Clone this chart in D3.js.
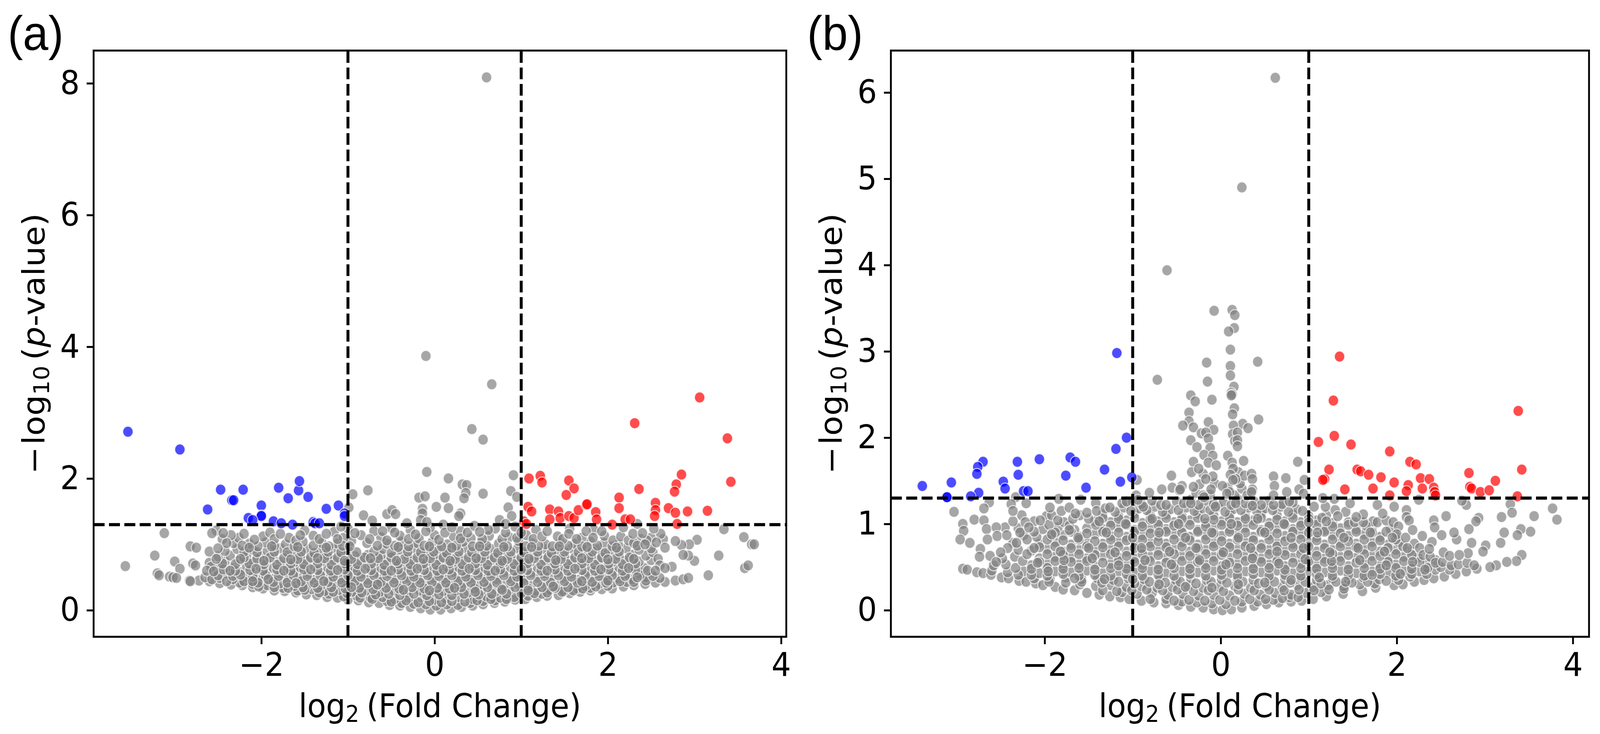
<!DOCTYPE html>
<html>
<head>
<meta charset="utf-8">
<script src="https://d3js.org/d3.v7.min.js"></script>
<style>
html, body { margin: 0; padding: 0; background: #fff; overflow: hidden; }
svg { display: block; width: 100vw; height: 100vh; }
text { font-family: "DejaVu Sans"; fill: #000; }
</style>
</head>
<body>
<div id="chart-area"></div>
<script>
var xTicks = [-2, 0, 2, 4];
var yTicksA = [0, 2, 4, 6, 8];
var yTicksB = [0, 1, 2, 3, 4, 5, 6];
var pThreshold = 1.3;
var fcCuts = [-1, 1];

// panel (a) points [log2 fc, -log10 p]
var blueA = [[-3.54,2.71],[-2.94,2.44],[-2.47,1.83],[-2.21,1.83],[-2.62,1.53],[-2.34,1.67],[-2.32,1.67],[-2,1.59],[-2,1.44],[-2,1.43],[-2.15,1.4],[-2.1,1.37],[-1.8,1.86],[-1.69,1.7],[-1.57,1.82],[-1.56,1.96],[-1.46,1.72],[-1.25,1.54],[-1.11,1.59],[-1.04,1.47],[-1.04,1.43],[-1.86,1.35],[-1.77,1.32],[-1.64,1.3],[-1.4,1.34],[-1.38,1.32],[-1.33,1.32]];
var redA = [[1.09,2],[1.22,2.04],[1.24,1.94],[1.55,1.97],[1.61,1.85],[1.52,1.75],[2.31,2.84],[3.06,3.23],[3.38,2.61],[3.42,1.95],[2.85,2.06],[2.79,1.91],[2.77,1.8],[2.36,1.84],[2.13,1.71],[2.13,1.55],[2.55,1.63],[2.55,1.52],[2.54,1.43],[2.7,1.55],[2.78,1.48],[2.92,1.5],[3.15,1.51],[1.08,1.57],[1.12,1.5],[1.33,1.53],[1.43,1.5],[1.33,1.38],[1.45,1.4],[1.55,1.43],[1.61,1.4],[1.66,1.52],[1.75,1.6],[1.76,1.61],[1.86,1.49],[1.87,1.38],[2.05,1.3],[2.2,1.38],[2.26,1.38],[2.8,1.31],[1.03,1.35],[1.06,1.31]];
var grayOutA = [[.6,8.09],[-.1,3.86],[.66,3.43],[.43,2.75],[.56,2.59],[-.09,2.1],[.16,2],[.91,2.05],[.32,1.91],[.37,1.9],[.36,1.78],[.34,1.7],[.56,1.77],[.88,1.81],[.95,1.72],[.85,1.56],[.12,1.71],[.16,1.55],[.3,1.47],[.28,1.43],[.75,1.37],[.89,1.43],[.82,1.31],[.46,1.28],[.52,1.19],[-.945,1.76],[-.77,1.82],[-.18,1.71],[-.11,1.73],[-.99,1.56],[-.82,1.44],[-.72,1.36],[-.55,1.46],[-.49,1.52],[-.45,1.46],[-.14,1.54],[-.14,1.47],[-.16,1.37],[-.09,1.34],[.02,1.57],[-.32,1.32],[3.34,1.23],[3.57,1.11],[3.66,1],[3.69,1],[3.03,1.07],[3.28,.83],[3.58,.64],[3.62,.68],[3.16,.53],[3,.75],[2.93,.83],[2.94,1],[2.85,.99],[2.78,1.05],[2.87,.84],[2.74,.66],[2.66,.64],[2.64,1.08],[2.61,1.16],[2.53,1.24],[2.34,1.31],[2.18,1.26],[2.29,1.16],[2.4,1.17],[2.43,1],[2.56,1.03],[2.66,.95],[-3.12,1.17],[-3.23,.83],[-3.57,.67],[-2.82,.97],[-2.75,.95],[-2.6,.89],[-2.5,.94],[-2.52,1.21],[-2.57,1.17],[-2.44,1.17],[-2.52,.78],[-3,.74],[-2.94,.63],[-3.2,.56],[-3.18,.53],[-3.06,.51],[-3.02,.5],[-2.98,.49],[-2.83,.45],[-2.82,.44],[-2.79,.71],[-2.76,.68],[-2.63,.6],[-2.55,.59]];
var grayEdgeA = [[-2.72,.45],[-2.6,.44],[-2.48,.41],[-2.35,.39],[-2.22,.38],[-2.1,.35],[-1.98,.33],[-1.85,.3],[-1.73,.29],[-1.6,.27],[-1.48,.24],[-1.36,.23],[-1.24,.2],[-1.12,.19],[-1,.16],[-.88,.15],[-.76,.12],[-.64,.11],[-.52,.08],[-.4,.07],[-.28,.05],[-.16,.03],[-.05,.01],[.07,.01],[.19,.03],[.31,.05],[.44,.07],[.56,.09],[.69,.11],[.81,.13],[.93,.16],[1.05,.17],[1.18,.2],[1.3,.22],[1.43,.23],[1.56,.26],[1.68,.28],[1.8,.3],[1.93,.32],[2.05,.33],[2.18,.36],[2.3,.38],[2.43,.4],[2.55,.42],[2.66,.43],[2.78,.45],[2.87,.47],[2.93,.49]];
var grayMassA = [[-.55,.14],[-.38,.11],[-.24,.1],[-.1,.09],[.02,.07],[.14,.09],[.27,.08],[.41,.11],[.56,.14],[.7,.15],
[-1.22,.25],[-1.05,.21],[-.9,.22],[-.74,.19],[-.6,.2],[-.46,.17],[-.3,.19],[-.15,.2],[0,.16],[.13,.18],[.28,.2],[.44,.17],[.6,.21],[.76,.19],[.92,.2],[1.08,.22],[1.24,.25],
[-1.75,.34],[-1.58,.3],[-1.42,.32],[-1.27,.29],[-1.1,.31],[-.95,.28],[-.79,.3],[-.63,.28],[-.47,.3],[-.32,.27],[-.17,.3],[-.03,.27],[.1,.29],[.25,.3],[.39,.27],[.54,.3],[.7,.28],[.86,.31],[1.01,.28],[1.17,.3],[1.33,.31],[1.49,.29],[1.65,.33],[1.8,.34],
[-2.25,.42],[-2.1,.4],[-1.93,.38],[-1.78,.41],[-1.62,.37],[-1.47,.39],[-1.31,.38],[-1.16,.4],[-1,.37],[-.85,.39],[-.7,.37],[-.54,.39],[-.39,.38],[-.24,.4],[-.09,.37],[.06,.39],[.2,.38],[.34,.4],[.5,.37],[.64,.4],[.8,.38],[.96,.4],[1.11,.37],[1.27,.39],[1.42,.38],[1.58,.4],[1.74,.37],[1.9,.4],[2.06,.42],[2.22,.43],
[-2.65,.5],[-2.48,.49],[-2.33,.47],[-2.17,.5],[-2.02,.46],[-1.86,.48],[-1.7,.47],[-1.55,.49],[-1.39,.46],[-1.24,.49],[-1.08,.47],[-.92,.49],[-.77,.46],[-.62,.48],[-.46,.47],[-.31,.49],[-.16,.46],[-.01,.48],[.13,.47],[.28,.49],[.43,.46],[.58,.49],[.72,.47],[.88,.48],[1.03,.46],[1.19,.49],[1.35,.47],[1.5,.48],[1.66,.46],[1.82,.49],[1.97,.47],[2.13,.48],[2.28,.47],[2.44,.5],[2.6,.49],
[-2.56,.57],[-2.4,.56],[-2.25,.58],[-2.09,.55],[-1.94,.57],[-1.78,.56],[-1.62,.58],[-1.47,.55],[-1.31,.57],[-1.16,.56],[-1,.58],[-.85,.55],[-.69,.57],[-.54,.56],[-.39,.58],[-.24,.55],[-.09,.57],[.06,.56],[.21,.58],[.36,.55],[.51,.57],[.65,.56],[.8,.58],[.96,.55],[1.11,.57],[1.27,.56],[1.42,.58],[1.58,.55],[1.74,.57],[1.89,.56],[2.05,.58],[2.21,.55],[2.36,.57],[2.5,.56],
[-2.48,.66],[-2.33,.64],[-2.17,.67],[-2.01,.65],[-1.86,.64],[-1.7,.66],[-1.55,.65],[-1.39,.67],[-1.23,.64],[-1.08,.66],[-.92,.65],[-.77,.67],[-.62,.64],[-.46,.66],[-.31,.65],[-.16,.67],[-.01,.64],[.14,.66],[.28,.65],[.43,.67],[.58,.64],[.73,.66],[.88,.65],[1.03,.67],[1.19,.64],[1.35,.66],[1.5,.65],[1.66,.67],[1.81,.64],[1.97,.66],[2.13,.65],[2.28,.67],[2.42,.64],
[-2.42,.74],[-2.26,.75],[-2.09,.73],[-1.94,.76],[-1.78,.74],[-1.62,.73],[-1.47,.75],[-1.31,.74],[-1.16,.76],[-1,.73],[-.85,.75],[-.69,.74],[-.54,.76],[-.39,.73],[-.24,.75],[-.09,.74],[.06,.76],[.21,.73],[.36,.75],[.51,.74],[.65,.76],[.8,.73],[.96,.75],[1.11,.74],[1.27,.76],[1.42,.73],[1.58,.75],[1.74,.74],[1.89,.76],[2.05,.73],[2.21,.75],[2.36,.74],[2.5,.76],
[-2.36,.83],[-2.17,.84],[-2.01,.82],[-1.86,.85],[-1.7,.83],[-1.55,.82],[-1.39,.84],[-1.23,.83],[-1.08,.85],[-.92,.82],[-.77,.84],[-.62,.83],[-.46,.85],[-.31,.82],[-.16,.84],[-.01,.83],[.14,.85],[.28,.82],[.43,.84],[.58,.83],[.73,.85],[.88,.82],[1.03,.84],[1.19,.83],[1.35,.85],[1.5,.82],[1.66,.84],[1.81,.83],[1.97,.85],[2.13,.82],[2.28,.84],[2.44,.83],
[-2.28,.93],[-2.1,.92],[-1.93,.9],[-1.78,.94],[-1.62,.91],[-1.47,.93],[-1.31,.92],[-1.16,.94],[-1,.91],[-.6,.93],[-.39,.92],[-.24,.94],[-.09,.91],[.06,.93],[.21,.92],[.36,.94],[.51,.91],[.65,.93],[.8,.92],[.96,.94],[1.11,.91],[1.27,.93],[1.42,.92],[1.58,.94],[1.74,.91],[1.89,.93],[2.05,.92],[2.21,.94],
[-2.32,1.02],[-2.14,1.01],[-1.95,1.03],[-1.72,1],[-1.52,1.04],[-1.3,1.02],[-1.12,1.01],[-.96,1.05],[-.78,1.02],[-.55,1.01],[-.38,1.04],[-.2,1.02],[-.03,1.03],[.15,1],[.33,1.04],[.54,1.02],[.74,1.01],[.97,1.05],[1.12,1.02],[1.28,1],[1.45,1.03],[1.62,1.01],[1.8,1.04],[1.96,1.02],[2.12,1],
[-2.26,1.1],[-1.98,1.12],[-1.68,1.1],[-1.4,1.13],[-1.05,1.1],[-.85,1.14],[-.62,1.11],[-.4,1.13],[-.18,1.09],[0,1.14],[.22,1.12],[.42,1.09],[.63,1.13],[.86,1.11],[1.06,1.14],[1.42,1.12],[1.7,1.1],[1.96,1.13],
[-1.9,1.18],[-1.5,1.21],[-1.16,1.19],[-1,1.24],[-.7,1.2],[-.5,1.25],[-.28,1.22],[-.05,1.26],[.1,1.3],[.3,1.2],[.7,1.24],[.93,1.27],[1.17,1.22],[1.56,1.24],[1.84,1.22]];
// further passes over the dense cloud, where single dots can't be told apart
var grayFillA = [[-.72,.17],[-.5,.13],[-.33,.15],[-.19,.12],[-.06,.14],[.08,.12],[.2,.14],[.35,.13],[.49,.15],[.65,.17],[.83,.17],[-.86,.19],
[-1.5,.31],[-1.33,.27],[-1.17,.28],[-1.01,.26],[-.84,.27],[-.68,.24],[-.53,.25],[-.4,.23],[-.24,.25],[-.09,.23],[.05,.24],[.2,.23],[.34,.25],[.51,.24],[.66,.25],[.83,.25],[1,.26],[1.15,.26],[1.3,.27],[1.47,.28],[1.6,.3],
[-2.03,.36],[-1.85,.35],[-1.69,.34],[-1.52,.35],[-1.35,.34],[-1.19,.35],[-1.03,.33],[-.87,.34],[-.71,.32],[-.56,.34],[-.41,.33],[-.26,.35],[-.12,.33],[.03,.34],[.17,.33],[.31,.35],[.46,.33],[.61,.35],[.77,.33],[.93,.35],[1.08,.33],[1.24,.35],[1.39,.34],[1.54,.35],[1.71,.33],[1.86,.36],[2,.37],
[-2.57,.47],[-2.4,.44],[-2.2,.44],[-2.04,.42],[-1.86,.43],[-1.7,.42],[-1.54,.44],[-1.39,.42],[-1.23,.43],[-1.07,.42],[-.92,.44],[-.77,.41],[-.62,.43],[-.47,.42],[-.32,.44],[-.17,.42],[-.03,.43],[.13,.42],[.27,.44],[.42,.42],[.57,.43],[.72,.42],[.88,.44],[1.03,.41],[1.19,.43],[1.34,.42],[1.5,.44],[1.65,.42],[1.82,.43],[1.98,.42],[2.14,.44],[2.3,.43],[2.44,.45],
[-2.5,.53],[-2.33,.52],[-2.24,.54],[-2.1,.51],[-1.95,.53],[-1.8,.52],[-1.63,.53],[-1.47,.52],[-1.32,.53],[-1.17,.51],[-1,.53],[-.85,.51],[-.7,.53],[-.55,.52],[-.38,.53],[-.24,.51],[-.08,.53],[.05,.52],[.2,.53],[.36,.51],[.5,.53],[.65,.52],[.8,.53],[.95,.51],[1.11,.53],[1.27,.52],[1.43,.53],[1.58,.51],[1.74,.53],[1.9,.52],[2.05,.53],[2.2,.52],[2.37,.53],[2.52,.52],
[-2.44,.62],[-2.3,.6],[-2.13,.61],[-1.98,.6],[-1.82,.62],[-1.66,.6],[-1.51,.62],[-1.35,.61],[-1.2,.6],[-1.04,.62],[-.89,.6],[-.73,.61],[-.58,.6],[-.42,.62],[-.27,.6],[-.12,.61],[.03,.6],[.17,.62],[.32,.6],[.47,.61],[.62,.6],[.76,.62],[.92,.6],[1.07,.61],[1.23,.6],[1.39,.62],[1.54,.6],[1.7,.61],[1.85,.6],[2.01,.62],[2.17,.6],[2.32,.61],[2.46,.6],
[-2.45,.71],[-2.3,.7],[-2.14,.71],[-1.97,.7],[-1.82,.69],[-1.66,.71],[-1.51,.7],[-1.35,.71],[-1.19,.69],[-1.04,.71],[-.89,.7],[-.73,.71],[-.58,.69],[-.42,.71],[-.28,.7],[-.13,.71],[.02,.69],[.17,.71],[.32,.7],[.47,.71],[.61,.69],[.76,.71],[.92,.7],[1.07,.71],[1.23,.69],[1.39,.71],[1.54,.7],[1.7,.71],[1.85,.69],[2.01,.71],[2.17,.7],[2.32,.71],
[-2.2,.8],[-2.05,.78],[-1.9,.8],[-1.74,.79],[-1.58,.78],[-1.43,.8],[-1.27,.79],[-1.12,.8],[-.96,.78],[-.81,.8],[-.65,.79],[-.5,.8],[-.35,.78],[-.2,.8],[-.05,.79],[.1,.8],[.24,.78],[.39,.8],[.54,.79],[.69,.8],[.84,.78],[1,.8],[1.15,.79],[1.31,.8],[1.46,.78],[1.62,.8],[1.78,.79],[1.93,.8],[2.09,.78],[2.25,.8],
[-2.2,.89],[-2.05,.88],[-1.85,.89],[-1.7,.88],[-1.54,.89],[-1.39,.87],[-1.23,.89],[-1.08,.88],[-.9,.88],[-.7,.89],[-.5,.87],[-.31,.89],[-.16,.88],[-.01,.89],[.14,.87],[.28,.89],[.43,.88],[.58,.89],[.73,.87],[.88,.89],[1.03,.88],[1.19,.89],[1.35,.87],[1.5,.89],[1.66,.88],[1.82,.89],[1.97,.87],[2.13,.89],
[-2.22,.98],[-2.04,.97],[-1.85,.98],[-1.62,.97],[-1.4,.98],[-1.22,.97],[-1.06,.98],[-.46,.98],[-.3,.97],[-.12,.98],[.08,.97],[.25,.98],[.44,.97],[.6,.98],[.84,.97],[1.05,.97],[1.2,.98],[1.36,.97],[1.54,.98],[1.7,.97],[1.88,.98],[2.05,.97]];
var grayMoreA = [[-2.45,1.08],[-2.35,1.14],[-2.2,1.16],[-2.08,1.07],[-1.85,1.08],[-1.78,1.16],[-1.6,1.06],[-1.55,1.14],[-1.33,1.08],[-1.25,1.16],[-1.12,1.08],[-1.08,1.27],[-.92,1.17],[-.75,1.08],[-.6,1.2],[-.55,1.06],[-.46,1.18],[-.3,1.08],[-.22,1.15],[-.1,1.2],[.05,1.07],[.12,1.18],[.2,1.26],[.3,1.09],[.38,1.18],[.55,1.08],[.62,1.22],[.78,1.08],[.82,1.18],[.95,1.1],[1,1.18],[1.14,1.08],[1.24,1.12],[1.3,1.2],[1.48,1.08],[1.55,1.16],[1.64,1.08],[1.75,1.2],[1.83,1.1],[1.93,1.2],[2.06,1.06],[2.15,1.12],[2.24,1.06],[2.38,1.08],[2.5,1.1],
[-2.6,.72],[-2.58,.66],[-2.5,.82],[-2.42,.9],[-2.4,1.02],[2.52,.88],[2.58,.78],[2.6,.68],[2.55,.6],[2.5,.94],[2.36,.92],[2.3,1.02],[2.34,.98],[2.45,1.06],
[-2.1,.44],[-1.92,.47],[-1.6,.41],[-1.28,.44],[-.96,.35],[-.66,.39],[-.36,.31],[-.06,.3],[.23,.34],[.47,.28],[.78,.31],[1.08,.3],[1.37,.36],[1.7,.44],[2,.45],[2.34,.5],
[-2.36,.6],[-2.06,.63],[-1.74,.6],[-1.43,.62],[-1.12,.61],[-.8,.63],[-.5,.6],[-.2,.63],[.1,.62],[.4,.63],[.7,.6],[1,.62],[1.3,.6],[1.62,.63],[1.92,.62],[2.24,.64],
[-2.24,.78],[-1.97,.75],[-1.66,.77],[-1.35,.79],[-1.04,.75],[-.74,.79],[-.44,.75],[-.13,.78],[.18,.75],[.48,.79],[.78,.75],[1.09,.78],[1.4,.76],[1.7,.79],[2,.77],[2.3,.78],
[-2.14,.95],[-1.88,.97],[-1.58,.96],[-1.25,.95],[-.98,.97],[-.66,.98],[-.42,.96],[-.06,.97],[.2,.95],[.52,.97],[.8,.96],[1.12,.96],[1.44,.97],[1.76,.96],[2.1,.95]];

// panel (b)
var blueB = [[-1.18,2.98],[-1.07,2],[-1.19,1.87],[-1.32,1.63],[-1.14,1.49],[-1.01,1.54],[-1.53,1.42],[-1.76,1.56],[-1.71,1.77],[-1.65,1.72],[-2.06,1.75],[-2.31,1.72],[-2.3,1.57],[-2.47,1.49],[-2.45,1.41],[-2.24,1.38],[-2.19,1.38],[-2.7,1.72],[-2.76,1.66],[-2.77,1.58],[-2.75,1.36],[-2.84,1.32],[-3.06,1.48],[-3.11,1.31],[-3.11,1.31],[-3.39,1.44]];
var redB = [[1.35,2.94],[1.28,2.43],[1.29,2.02],[1.11,1.95],[1.48,1.92],[1.92,1.84],[2.15,1.72],[2.22,1.69],[3.38,2.31],[3.42,1.63],[1.23,1.63],[1.18,1.52],[1.16,1.51],[1.55,1.63],[1.59,1.61],[1.68,1.57],[1.82,1.54],[1.97,1.48],[1.41,1.4],[1.73,1.41],[1.92,1.33],[2.13,1.45],[2.11,1.38],[2.27,1.53],[2.37,1.52],[2.29,1.41],[2.42,1.42],[2.43,1.37],[2.44,1.33],[2.82,1.59],[2.83,1.43],[2.85,1.41],[2.95,1.37],[3.05,1.39],[3.12,1.5],[3.37,1.32]];
var grayOutB = [[.62,6.17],[.24,4.9],[-.61,3.94],[-.075,3.47],[.13,3.48],[.16,3.42],[.154,3.27],[.09,3.23],[.11,3.02],[.11,2.83],[.11,2.72],[.42,2.88],[-.16,2.87],[-.15,2.65],[-.72,2.67],[-.34,2.49],[-.29,2.42],[-.1,2.44],[.15,2.59],[.12,2.52],[.13,2.5],[.12,2.49],[.155,2.34],[.135,2.27],[-.36,2.29],[-.36,2.19],[-.43,2.14],[-.31,2.12],[-.14,2.18],[-.08,2.09],[-.22,2.05],[-.17,2.06],[-.14,1.99],[.43,2.21],[.25,2.16],[.31,2.11],[.145,2.14],[.135,2.04],[.19,2.06],[.16,1.96],[.19,1.97],[.19,1.9],[-.34,1.97],[-.27,1.89],[-.12,1.88],[-.19,1.8],[-.09,1.79],[-.31,1.72],[-.14,1.71],[-.05,1.68],[-.33,1.6],[-.25,1.64],[-.09,1.55],[-.17,1.52],[.08,1.79],[.13,1.71],[.26,1.73],[.14,1.64],[.11,1.57],[.17,1.52],[.14,1.51],[.35,1.58],[.36,1.52],[.875,1.72],[.6,1.55],[.74,1.53],[.61,1.44],[.75,1.37],[.89,1.4],[.95,1.51],[.6,1.33],[.94,1.35],[.36,1.4],[.35,1.37],[.1,1.37],[-.56,1.56],[-.95,1.51],[-.81,1.36],[-.67,1.4],[-.55,1.42],[-.44,1.44],[-.47,1.39],[-.96,1.33],[-.31,1.43],[-.11,1.4],[-.2,1.33],[-.46,1.4],[-.19,1.31],[.02,1.44],[.07,1.35],[3.77,1.18],[3.82,1.05],[3.56,1.09],[3.29,1.23],[3.31,1.13],[3.19,1.08],[3.22,.9],[3.41,.94],[3.37,.87],[3.52,.91],[3.18,.78],[3.42,.64],[3.36,.57],[3.25,.56],[3.13,.52],[3.06,.5],[2.93,1.07],[2.9,1.03],[2.82,.94],[2.85,.78],[3.01,.75],[2.98,.68],[2.81,.66],[2.68,.82],[2.65,.9],[2.56,1.09],[2.42,1.04],[2.43,.96],[2.51,.87],[2.79,1.22],[2.74,1.27],[2.25,1.28],[2.11,1.16],[1.97,1.2],[1.78,1.22],[1.47,1.24],[1.19,1.2],[1.06,1.2],[1.16,1.3],[1.29,1.29],[1.62,1.11],[1.84,1.12],[1.33,1.09],[1.54,1.08],[2.11,1.08],[2.14,1.04],[2.18,.93],[2.29,.86],[2.4,.79],[2.37,.71],[2.53,.67],[2.6,.63],[2.71,.64],[-3.03,1.14],[-2.93,1],[-2.8,1.05],[-2.92,.92],[-2.96,.82],[-2.85,.78],[-2.69,1.04],[-2.63,1.25],[-2.69,1.18],[-2.66,.94],[-2.55,.96],[-2.54,.86],[-2.65,.82],[-2.43,.87],[-2.73,.71],[-2.74,.62],[-2.62,.63],[-2.55,.56],[-2.5,.67],[-2.33,1.31],[-2.38,1.23],[-2.21,1.24],[-2.36,1.15],[-1.84,1.29],[-1.59,1.28],[-1.94,1.19],[-1.81,1.15],[-1.72,1.19],[-1.65,1.12],[-1.52,1.13],[-1.41,1.15],[-1.31,1.18],[-1.26,1.19],[-1.07,1.26],[-.94,1.28]];
var grayEdgeB = [[-2.93,.48],[-2.88,.47],[-2.77,.44],[-2.7,.43],[-2.61,.41],[-2.49,.38],[-2.41,.37],[-2.29,.34],[-2.21,.33],[-2.1,.31],[-2.02,.29],[-1.88,.27],[-1.79,.24],[-1.66,.23],[-1.52,.2],[-1.38,.18],[-1.26,.16],[-1.14,.15],[-1.04,.13],[-.9,.11],[-.76,.09],[-.62,.08],[-.48,.06],[-.34,.04],[-.2,.03],[-.08,.01],[.02,0],[.12,.01],[.24,.03],[.38,.05],[.52,.07],[.66,.09],[.8,.1],[.92,.11],[1.05,.13],[1.2,.16],[1.39,.19],[1.61,.22],[1.76,.26],[1.97,.29],[2.07,.3],[2.2,.33],[2.31,.35],[2.42,.37],[2.54,.39],[2.67,.42],[2.79,.45],[2.91,.48]];
var grayMassB = [[-.62,.13],[-.44,.1],[-.27,.09],[-.1,.08],[.06,.07],[.24,.1],[.42,.1],[.6,.12],[.78,.15],
[-1.12,.21],[-.95,.19],[-.78,.2],[-.6,.18],[-.43,.19],[-.25,.17],[-.08,.18],[.1,.17],[.27,.19],[.45,.18],[.62,.2],[.8,.18],[.97,.2],[1.14,.21],
[-1.6,.3],[-1.42,.28],[-1.25,.29],[-1.07,.27],[-.9,.28],[-.72,.26],[-.55,.27],[-.37,.28],[-.2,.26],[-.02,.27],[.16,.28],[.34,.26],[.52,.28],[.7,.27],[.87,.29],[1.05,.27],[1.22,.29],[1.4,.28],[1.58,.3],[1.75,.31],
[-2.12,.37],[-1.94,.36],[-1.76,.38],[-1.58,.36],[-1.4,.37],[-1.22,.35],[-1.05,.37],[-.87,.36],[-.69,.37],[-.51,.35],[-.34,.37],[-.16,.35],[.01,.36],[.19,.37],[.37,.35],[.55,.37],[.73,.36],[.91,.38],[1.09,.35],[1.27,.37],[1.45,.36],[1.62,.38],[1.8,.36],[1.98,.38],[2.15,.39],
[-2.6,.46],[-2.42,.44],[-2.24,.45],[-2.06,.43],[-1.88,.45],[-1.7,.44],[-1.52,.46],[-1.34,.43],[-1.16,.45],[-.98,.44],[-.8,.46],[-.62,.43],[-.44,.45],[-.26,.44],[-.08,.46],[.1,.43],[.28,.45],[.46,.44],[.64,.46],[.82,.43],[1,.45],[1.18,.44],[1.36,.46],[1.54,.43],[1.72,.45],[1.9,.44],[2.08,.46],[2.26,.45],[2.44,.47],[2.6,.47],
[-2.44,.53],[-2.15,.52],[-1.97,.54],[-1.79,.52],[-1.61,.53],[-1.43,.51],[-1.25,.54],[-1.07,.52],[-.89,.53],[-.71,.51],[-.53,.54],[-.35,.52],[-.17,.53],[.01,.51],[.19,.54],[.37,.52],[.55,.53],[.73,.51],[.91,.54],[1.09,.52],[1.27,.53],[1.45,.51],[1.63,.54],[1.81,.52],[1.99,.53],[2.17,.51],[2.35,.54],
[-2.34,.62],[-2.06,.6],[-1.88,.62],[-1.7,.61],[-1.52,.6],[-1.34,.63],[-1.16,.61],[-.98,.6],[-.8,.62],[-.62,.61],[-.44,.63],[-.26,.6],[-.08,.62],[.1,.61],[.28,.63],[.46,.6],[.64,.62],[.82,.61],[1,.63],[1.18,.6],[1.36,.62],[1.54,.61],[1.72,.63],[1.9,.6],[2.08,.62],[2.24,.61],
[-2.3,.7],[-2.15,.69],[-1.97,.71],[-1.79,.68],[-1.61,.7],[-1.43,.69],[-1.25,.71],[-1.07,.68],[-.89,.7],[-.71,.69],[-.53,.71],[-.35,.68],[-.17,.7],[.01,.69],[.19,.71],[.37,.68],[.55,.7],[.73,.69],[.91,.71],[1.09,.68],[1.27,.7],[1.45,.69],[1.63,.71],[1.81,.68],[1.99,.7],[2.15,.69],
[-2.36,.78],[-2.06,.77],[-1.88,.79],[-1.7,.76],[-1.52,.78],[-1.34,.77],[-1.16,.79],[-.98,.76],[-.8,.78],[-.62,.77],[-.44,.79],[-.26,.76],[-.08,.78],[.1,.77],[.28,.79],[.46,.76],[.64,.78],[.82,.77],[1,.79],[1.18,.76],[1.36,.78],[1.54,.77],[1.72,.79],[1.9,.76],[2.02,.79],
[-2.24,.87],[-2.09,.85],[-1.93,.86],[-1.79,.87],[-1.6,.85],[-1.43,.88],[-1.25,.86],[-1.07,.85],[-.89,.87],[-.71,.86],[-.53,.88],[-.35,.85],[-.17,.87],[.01,.86],[.19,.88],[.37,.85],[.55,.87],[.73,.86],[.91,.88],[1.09,.85],[1.27,.87],[1.45,.86],[1.63,.88],[1.81,.85],[1.98,.87],
[-2.3,.95],[-2.02,.94],[-1.85,.96],[-1.66,.93],[-1.52,.95],[-1.34,.94],[-1.16,.96],[-.98,.93],[-.8,.95],[-.62,.94],[-.44,.96],[-.26,.93],[-.08,.95],[.1,.94],[.28,.96],[.46,.93],[.64,.95],[.82,.94],[1,.96],[1.18,.93],[1.36,.95],[1.54,.94],[1.72,.96],[1.93,.94],
[-2.12,1.03],[-1.78,1.02],[-1.43,1.03],[-1.25,1.02],[-1.07,1.04],[-.89,1.01],[-.71,1.03],[-.53,1.02],[-.35,1.04],[-.17,1.01],[.01,1.03],[.19,1.02],[.37,1.04],[.55,1.01],[.73,1.03],[.91,1.02],[1.09,1.04],[1.27,1.01],[1.45,1.02],[1.73,1.03],
[-2.26,1.1],[-1.98,1.09],[-1.6,1.1],[-1.34,1.11],[-1.16,1.09],[-.98,1.12],[-.8,1.1],[-.62,1.11],[-.44,1.09],[-.26,1.12],[-.08,1.1],[.1,1.11],[.28,1.09],[.46,1.12],[.64,1.1],[.82,1.11],[1,1.09],[1.2,1.1],
[-1.1,1.19],[-.93,1.18],[-.75,1.2],[-.57,1.17],[-.39,1.19],[-.21,1.18],[-.03,1.2],[.14,1.17],[.32,1.19],[.5,1.18],[.68,1.2],[.86,1.17],
[-1,1.26],[-.78,1.27],[-.5,1.26],[-.34,1.28],[-.16,1.27],[.03,1.25],[.2,1.28],[.38,1.26],[.55,1.27],[.82,1.25]];
var grayFillB = [[-.8,.13],[-.53,.11],[-.36,.12],[-.18,.11],[-.01,.12],[.16,.11],[.33,.13],[.51,.13],[.7,.14],[.88,.15],
[-1.34,.23],[-1.18,.22],[-1.01,.23],[-.84,.24],[-.66,.23],[-.49,.24],[-.31,.22],[-.14,.23],[.03,.22],[.2,.24],[.38,.23],[.55,.24],[.72,.23],[.89,.24],[1.06,.23],[1.23,.24],[1.4,.25],
[-1.95,.33],[-1.76,.32],[-1.58,.33],[-1.35,.32],[-1.16,.33],[-.98,.31],[-.81,.33],[-.63,.32],[-.46,.33],[-.28,.31],[-.11,.33],[.07,.32],[.25,.33],[.43,.31],[.61,.33],[.79,.32],[.96,.33],[1.14,.31],[1.31,.33],[1.49,.32],[1.67,.33],[1.88,.34],[2.02,.35],
[-2.3,.41],[-2.15,.41],[-1.97,.4],[-1.79,.42],[-1.61,.4],[-1.43,.41],[-1.25,.4],[-1.07,.42],[-.89,.4],[-.71,.41],[-.53,.4],[-.35,.42],[-.17,.4],[.01,.41],[.19,.4],[.37,.42],[.55,.4],[.73,.41],[.91,.4],[1.09,.42],[1.27,.4],[1.45,.41],[1.63,.4],[1.81,.42],[1.99,.4],[2.17,.42],[2.34,.42],
[-2.33,.49],[-2.15,.48],[-1.97,.49],[-1.79,.48],[-1.61,.49],[-1.43,.47],[-1.25,.49],[-1.07,.48],[-.89,.49],[-.71,.47],[-.53,.49],[-.35,.48],[-.17,.49],[.01,.47],[.19,.49],[.37,.48],[.55,.49],[.73,.47],[.91,.49],[1.09,.48],[1.27,.49],[1.45,.47],[1.63,.49],[1.81,.48],[1.99,.49],[2.17,.48],[2.35,.49],[2.5,.5],
[-2.25,.57],[-2.06,.56],[-1.88,.57],[-1.7,.56],[-1.52,.57],[-1.34,.55],[-1.16,.57],[-.98,.56],[-.8,.57],[-.62,.55],[-.44,.57],[-.26,.56],[-.08,.57],[.1,.55],[.28,.57],[.46,.56],[.64,.57],[.82,.55],[1,.57],[1.18,.56],[1.36,.57],[1.54,.55],[1.72,.57],[1.9,.56],[2.08,.57],[2.26,.56],[2.44,.58],
[-2.2,.65],[-1.97,.65],[-1.79,.64],[-1.61,.65],[-1.43,.64],[-1.25,.65],[-1.07,.63],[-.89,.65],[-.71,.64],[-.53,.65],[-.35,.63],[-.17,.65],[.01,.64],[.19,.65],[.37,.63],[.55,.65],[.73,.64],[.91,.65],[1.09,.63],[1.27,.65],[1.45,.64],[1.63,.65],[1.81,.63],[1.99,.65],[2.17,.64],
[-2.06,.73],[-1.88,.74],[-1.7,.72],[-1.52,.74],[-1.34,.73],[-1.16,.74],[-.98,.72],[-.8,.74],[-.62,.73],[-.44,.74],[-.26,.72],[-.08,.74],[.1,.73],[.28,.74],[.46,.72],[.64,.74],[.82,.73],[1,.74],[1.18,.72],[1.36,.74],[1.54,.73],[1.72,.74],[1.9,.72],[2.07,.74],
[-2.2,.82],[-1.97,.82],[-1.79,.81],[-1.61,.82],[-1.43,.8],[-1.25,.82],[-1.07,.81],[-.89,.82],[-.71,.8],[-.53,.82],[-.35,.81],[-.17,.82],[.01,.8],[.19,.82],[.37,.81],[.55,.82],[.73,.8],[.91,.82],[1.09,.81],[1.27,.82],[1.45,.8],[1.63,.82],[1.81,.81],[1.99,.82],
[-2.12,.91],[-1.88,.9],[-1.7,.91],[-1.52,.89],[-1.34,.91],[-1.16,.9],[-.98,.91],[-.8,.89],[-.62,.91],[-.44,.9],[-.26,.91],[-.08,.89],[.1,.91],[.28,.9],[.46,.91],[.64,.89],[.82,.91],[1,.9],[1.18,.91],[1.36,.89],[1.54,.91],[1.72,.9],[1.88,.91],
[-1.95,.99],[-1.72,.98],[-1.42,.99],[-1.25,.98],[-1.07,.99],[-.89,.97],[-.71,.99],[-.53,.98],[-.35,.99],[-.17,.97],[.01,.99],[.19,.98],[.37,.99],[.55,.97],[.73,.99],[.91,.98],[1.09,.99],[1.27,.97],[1.45,.99],[1.65,.98],
[-1.34,1.07],[-1.16,1.06],[-.98,1.07],[-.8,1.05],[-.62,1.07],[-.44,1.06],[-.26,1.07],[-.08,1.05],[.1,1.07],[.28,1.06],[.46,1.07],[.64,1.05],[.82,1.07],[1,1.06],[1.15,1.07],
[-1.02,1.15],[-.84,1.16],[-.66,1.14],[-.48,1.16],[-.3,1.15],[-.12,1.16],[.05,1.14],[.23,1.16],[.41,1.15],[.59,1.16],[.77,1.14],[.93,1.15],
[-.9,1.23],[-.68,1.22],[-.42,1.24],[-.25,1.22],[-.08,1.23],[.12,1.22],[.28,1.24],[.46,1.22],[.7,1.23],
[-.28,1.36],[-.12,1.34],[.08,1.42],[.16,1.33],[.24,1.41],[.3,1.33],[-.24,1.46],[-.07,1.47],[.2,1.6],[.22,1.47],[-.2,1.58],[.27,1.56]];
var grayMoreB = [[-2.58,.52],[-2.48,.6],[-2.42,.72],[-2.32,.78],[-2.45,.96],[-2.28,.9],[-2.22,1.02],[-2.36,1.03],[-2.18,.96],[-2.05,1.04],[-1.92,1.1],[-1.85,1.04],[-1.68,1.06],[-1.72,.93],[-1.5,1.06],[-1.42,1.24],[-1.2,1.14],[-1.12,1.24],
[1.3,1.16],[1.42,1.14],[1.52,1.02],[1.62,1.02],[1.78,1.02],[1.88,1.04],[1.96,1.02],[2.02,.97],[2,.88],[2.1,.84],[2.2,.77],[2.26,.72],[2.3,.64],[2.38,.62],[2.44,.55],[2.52,.56],[2.62,.52],[2.7,.53],[2.8,.55],[2.88,.52],
[-1.96,.45],[-1.66,.37],[-1.32,.36],[-1,.36],[-.7,.3],[-.4,.27],[-.1,.26],[.2,.3],[.5,.32],[.8,.35],[1.12,.38],[1.42,.33],[1.72,.41],[2.04,.42],[2.32,.47],
[-2.08,.55],[-1.78,.58],[-1.46,.6],[-1.16,.52],[-.86,.58],[-.56,.53],[-.24,.58],[.06,.53],[.36,.6],[.66,.54],[.96,.59],[1.26,.57],[1.58,.58],[1.88,.52],[2.18,.56],
[-2.12,.72],[-1.82,.68],[-1.5,.72],[-1.2,.67],[-.9,.72],[-.58,.68],[-.28,.72],[.03,.67],[.34,.72],[.64,.68],[.94,.72],[1.24,.67],[1.56,.72],[1.86,.68],[2.12,.72],
[-1.92,.88],[-1.62,.84],[-1.3,.9],[-1,.84],[-.7,.9],[-.4,.84],[-.1,.9],[.2,.84],[.5,.9],[.8,.84],[1.1,.9],[1.4,.84],[1.7,.9],[1.95,.84],
[-1.38,1.03],[-1.08,1],[-.78,1.06],[-.48,1],[-.18,1.06],[.12,1],[.42,1.06],[.72,1],[1,1.02],[1.2,1.03],
[-.88,1.2],[-.62,1.22],[-.34,1.24],[-.06,1.2],[.17,1.24],[.36,1.21],[.6,1.22],[.78,1.26]];

var pointR = 14;

var svg = d3.select("#chart-area")
	.append("svg")
		.attr("viewBox", "0 0 4375 1880")
		.attr("preserveAspectRatio", "none");

var clipCount = 0;

function drawPanel(opts) {
	var x = d3.scaleLinear().domain(opts.xDomain).range([opts.left, opts.right]);
	var y = d3.scaleLinear().domain(opts.yDomain).range([1631, 129.5]);
	clipCount += 1;
	var clipId = "plot-clip-" + clipCount;

	svg.append("clipPath")
		.attr("id", clipId)
		.append("rect")
			.attr("x", opts.left)
			.attr("y", 129.5)
			.attr("width", opts.right - opts.left)
			.attr("height", 1631 - 129.5);

	var plot = svg.append("g").attr("clip-path", "url(#" + clipId + ")");

	function addDots(data, color) {
		plot.append("g").selectAll("circle")
			.data(data)
			.enter().append("circle")
				.attr("cx", function(d){ return x(d[0]); })
				.attr("cy", function(d){ return y(d[1]); })
				.attr("r", pointR)
				.attr("fill", color)
				.attr("fill-opacity", 0.7)
				.attr("stroke", "#fff")
				.attr("stroke-opacity", 0.7)
				.attr("stroke-width", 2.5);
	}

	addDots(opts.gray, "#808080");
	addDots(opts.blue, "#0000ff");
	addDots(opts.red, "#ff0000");

	// threshold lines, dashes start from the bottom and the left like the original
	fcCuts.forEach(function(c){
		plot.append("line")
			.attr("x1", x(c)).attr("x2", x(c))
			.attr("y1", 1631).attr("y2", 129.5)
			.attr("stroke", "#000").attr("stroke-width", 8)
			.attr("stroke-dasharray", "30 12");
	});
	plot.append("line")
		.attr("x1", opts.left).attr("x2", opts.right)
		.attr("y1", y(pThreshold)).attr("y2", y(pThreshold))
		.attr("stroke", "#000").attr("stroke-width", 8)
		.attr("stroke-dasharray", "30 12");

	// axes
	var xAxis = d3.axisBottom(x).tickValues(xTicks).tickSize(19).tickPadding(21).tickSizeOuter(0);
	var yAxis = d3.axisLeft(y).tickValues(opts.yTicks).tickFormat(d3.format("d")).tickSize(19).tickPadding(19).tickSizeOuter(0);

	var gx = svg.append("g").attr("transform", "translate(0,1631)").call(xAxis);
	var gy = svg.append("g").attr("transform", "translate(" + opts.left + ",0)").call(yAxis);

	[gx, gy].forEach(function(g){
		g.select(".domain").remove();
		g.selectAll("line").attr("stroke", "#000").attr("stroke-width", 5);
		g.selectAll("text").attr("font-size", 84).attr("font-family", "DejaVu Sans").attr("fill", "#000");
	});

	svg.append("rect")
		.attr("x", opts.left)
		.attr("y", 129.5)
		.attr("width", opts.right - opts.left)
		.attr("height", 1631 - 129.5)
		.attr("fill", "none")
		.attr("stroke", "#000")
		.attr("stroke-width", 5);

	// x label
	var xLabel = svg.append("text")
		.attr("x", (opts.left + opts.right) / 2)
		.attr("y", 1837)
		.attr("text-anchor", "middle")
		.attr("font-size", 84);
	xLabel.append("tspan").text("log");
	xLabel.append("tspan").attr("font-size", 59).attr("dy", 12).text("2");
	xLabel.append("tspan").attr("dy", -12).attr("dx", 20).text("(Fold Change)");

	// y label
	var yLabel = svg.append("text")
		.attr("transform", "translate(" + opts.yLabelX + ",880) rotate(-90)")
		.attr("text-anchor", "middle")
		.attr("font-size", 84);
	yLabel.append("tspan").text("\u2212");
	yLabel.append("tspan").attr("dx", 4).text("log");
	yLabel.append("tspan").attr("font-size", 59).attr("dy", 12).text("10");
	yLabel.append("tspan").attr("dy", -12).attr("dx", 14).text("(");
	yLabel.append("tspan").attr("font-style", "italic").text("p");
	yLabel.append("tspan").text("-value)");

	// panel letter
	svg.append("text")
		.attr("x", opts.letterX)
		.attr("y", 128)
		.style("font-family", "'Liberation Sans'")
		.attr("font-size", 125)
		.text(opts.letter);
}

drawPanel({
	letter: "(a)", letterX: 21, yLabelX: 122,
	left: 256, right: 2150,
	xDomain: [-3.936, 4.06], yDomain: [-0.403, 8.497], yTicks: yTicksA,
	gray: grayEdgeA.concat(grayMassA, grayFillA, grayMoreA, grayOutA), blue: blueA, red: redA
});

drawPanel({
	letter: "(b)", letterX: 2207, yLabelX: 2302,
	left: 2436, right: 4345,
	xDomain: [-3.747, 4.184], yDomain: [-0.308, 6.486], yTicks: yTicksB,
	gray: grayEdgeB.concat(grayMassB, grayFillB, grayMoreB, grayOutB), blue: blueB, red: redB
});
</script>
</body>
</html>
